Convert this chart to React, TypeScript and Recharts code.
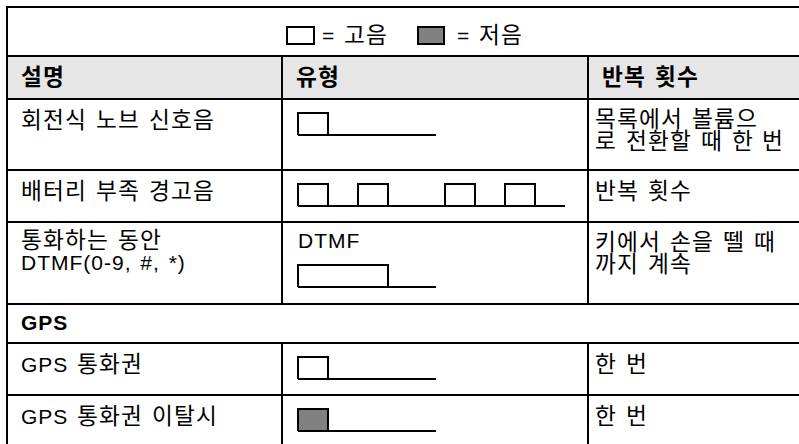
import { ComposedChart, Area, XAxis, YAxis, ReferenceLine } from 'recharts'

// table text
const headers = ['설명', '유형', '반복 횟수']
const descriptions = [
  ['회전식 노브 신호음'],
  ['배터리 부족 경고음'],
  ['통화하는 동안', 'DTMF(0-9, #, *)'],
  ['GPS 통화권'],
  ['GPS 통화권 이탈시'],
]
const repeats = [
  ['목록에서 볼륨으', '로 전환할 때 한 번'],
  ['반복 횟수'],
  ['키에서 손을 뗄 때', '까지 계속'],
  ['한 번'],
  ['한 번'],
]
const toneLabels = ['', '', 'DTMF', '', '']
const sectionTitle = 'GPS'

// tone waveforms: t = time unit, v = 1 while the tone sounds
const rotaryTone = [
  { t: 0, v: 0 }, { t: 0, v: 1 }, { t: 1, v: 0 }, { t: 4.6, v: 0 },
]
const batteryTone = [
  { t: 0, v: 0 }, { t: 0, v: 1 }, { t: 1, v: 0 }, { t: 2, v: 1 }, { t: 3, v: 0 },
  { t: 4.9, v: 1 }, { t: 5.9, v: 0 }, { t: 6.9, v: 1 }, { t: 7.9, v: 0 }, { t: 8.9, v: 0 },
]
const dtmfTone = [
  { t: 0, v: 0 }, { t: 0, v: 1 }, { t: 3, v: 0 }, { t: 4.6, v: 0 },
]
const gpsInTone = [
  { t: 0, v: 0 }, { t: 0, v: 1 }, { t: 1, v: 0 }, { t: 4.6, v: 0 },
]
const gpsOutTone = [
  { t: 0, v: 0 }, { t: 0, v: 1 }, { t: 1, v: 0 }, { t: 4.6, v: 0 },
]
const tones = [rotaryTone, batteryTone, dtmfTone, gpsInTone, gpsOutTone]
const toneIsLow = [false, false, false, false, true]

const HIGH = '#ffffff'
const LOW = '#808080'
const UNIT = 30
const FONT = '"Liberation Sans", KRScaled, "Noto Sans CJK KR", sans-serif'
const FS = 21

// korean glyphs drawn a little larger than the latin ones
const fontCss = `
@font-face { font-family: KRScaled; font-weight: 400;
  src: local("Noto Sans CJK KR Regular"), local("NotoSansCJKkr-Regular"), local("Noto Sans CJK KR");
  unicode-range: U+1100-11FF, U+3130-318F, U+AC00-D7AF; size-adjust: 108%; }
@font-face { font-family: KRScaled; font-weight: 700;
  src: local("Noto Sans CJK KR Bold"), local("NotoSansCJKkr-Bold");
  unicode-range: U+1100-11FF, U+3130-318F, U+AC00-D7AF; size-adjust: 108%; }
`

// layout
const colX = [7, 282, 588, 802]
const rowY = [7, 56, 99, 170, 222, 304, 343, 395, 448]
const bodyRows = [2, 3, 4, 6, 7] // index into rowY for each table row

function ToneChart({ data, low }: { data: { t: number; v: number }[]; low: boolean }) {
  const end = data[data.length - 1].t
  return (
    <ComposedChart
      width={end * UNIT + 4}
      height={26}
      data={data}
      margin={{ top: 2, right: 2, bottom: 2, left: 2 }}
    >
      <XAxis dataKey="t" type="number" domain={[0, end]} hide />
      <YAxis type="number" domain={[0, 1]} hide />
      <Area
        type="stepAfter"
        dataKey="v"
        stroke="#000"
        strokeWidth={2}
        fill={low ? LOW : HIGH}
        fillOpacity={1}
        isAnimationActive={false}
      />
      <ReferenceLine y={0} stroke="#000" strokeWidth={2} />
    </ComposedChart>
  )
}

function Cell({ x, y, lines, bold }: { x: number; y: number; lines: string[]; bold?: boolean }) {
  return (
    <div
      style={{
        position: 'absolute',
        left: x,
        top: y,
        fontSize: FS,
        lineHeight: '22px',
        letterSpacing: 1,
        wordSpacing: 2,
        fontWeight: bold ? 'bold' : 'normal',
        whiteSpace: 'nowrap',
      }}
    >
      {lines.map((l, i) => (
        <div key={i}>{l}</div>
      ))}
    </div>
  )
}

export default function App() {
  return (
    <div
      style={{
        position: 'absolute',
        left: 0,
        top: 0,
        width: 799,
        height: 444,
        overflow: 'hidden',
        background: '#fff',
        fontFamily: FONT,
        color: '#000',
      }}
    >
      <style>{fontCss}</style>
      {/* header band */}
      <div
        style={{
          position: 'absolute',
          left: colX[0],
          top: rowY[1],
          width: colX[3] - colX[0],
          height: rowY[2] - rowY[1],
          background: '#e6e6e6',
        }}
      />

      {/* grid lines */}
      {rowY.map((y, i) => (
        <div
          key={'h' + i}
          style={{ position: 'absolute', left: colX[0] - 1, top: y - 1, width: colX[3] - colX[0] + 2, height: 2, background: '#000' }}
        />
      ))}
      {[colX[0], colX[3]].map((x, i) => (
        <div
          key={'o' + i}
          style={{ position: 'absolute', left: x - 1, top: rowY[0] - 1, width: 2, height: rowY[8] - rowY[0] + 2, background: '#000' }}
        />
      ))}
      {[colX[1], colX[2]].map((x, i) => (
        <div key={'c' + i}>
          <div style={{ position: 'absolute', left: x - 1, top: rowY[1], width: 2, height: rowY[5] - rowY[1], background: '#000' }} />
          <div style={{ position: 'absolute', left: x - 1, top: rowY[6], width: 2, height: rowY[8] - rowY[6], background: '#000' }} />
        </div>
      ))}

      {/* legend row */}
      <div style={{ position: 'absolute', left: 0, top: 25, width: 799, fontSize: FS, lineHeight: '22px', letterSpacing: 1 }}>
        <div style={{ position: 'absolute', left: 286, top: 1, width: 25, height: 15, border: '2px solid #000', background: HIGH }} />
        <div style={{ position: 'absolute', left: 322, top: 0, wordSpacing: 2 }}>= 고음</div>
        <div style={{ position: 'absolute', left: 417, top: 1, width: 24, height: 15, border: '2px solid #000', background: LOW }} />
        <div style={{ position: 'absolute', left: 457, top: 0, wordSpacing: 2 }}>= 저음</div>
      </div>

      {/* column headers */}
      {headers.map((h, i) => (
        <Cell key={h} x={colX[i] + 14} y={rowY[1] + 11} lines={[h]} bold />
      ))}

      {/* body rows */}
      {descriptions.map((d, i) => {
        const top = rowY[bodyRows[i]]
        return (
          <div key={i}>
            <Cell x={colX[0] + 14} y={top + (d.length > 1 ? 8 : 11)} lines={d} />
            {toneLabels[i] && <Cell x={colX[1] + 16} y={top + 8} lines={[toneLabels[i]]} />}
            <div style={{ position: 'absolute', left: colX[1] + 14, top: top + (toneLabels[i] ? 41 : 12) }}>
              <ToneChart data={tones[i]} low={toneIsLow[i]} />
            </div>
            <Cell x={colX[2] + 7} y={top + (repeats[i].length > 1 ? 10 : 11)} lines={repeats[i]} />
          </div>
        )
      })}

      {/* section row */}
      <Cell x={colX[0] + 14} y={rowY[5] + 8} lines={[sectionTitle]} bold />
    </div>
  )
}
